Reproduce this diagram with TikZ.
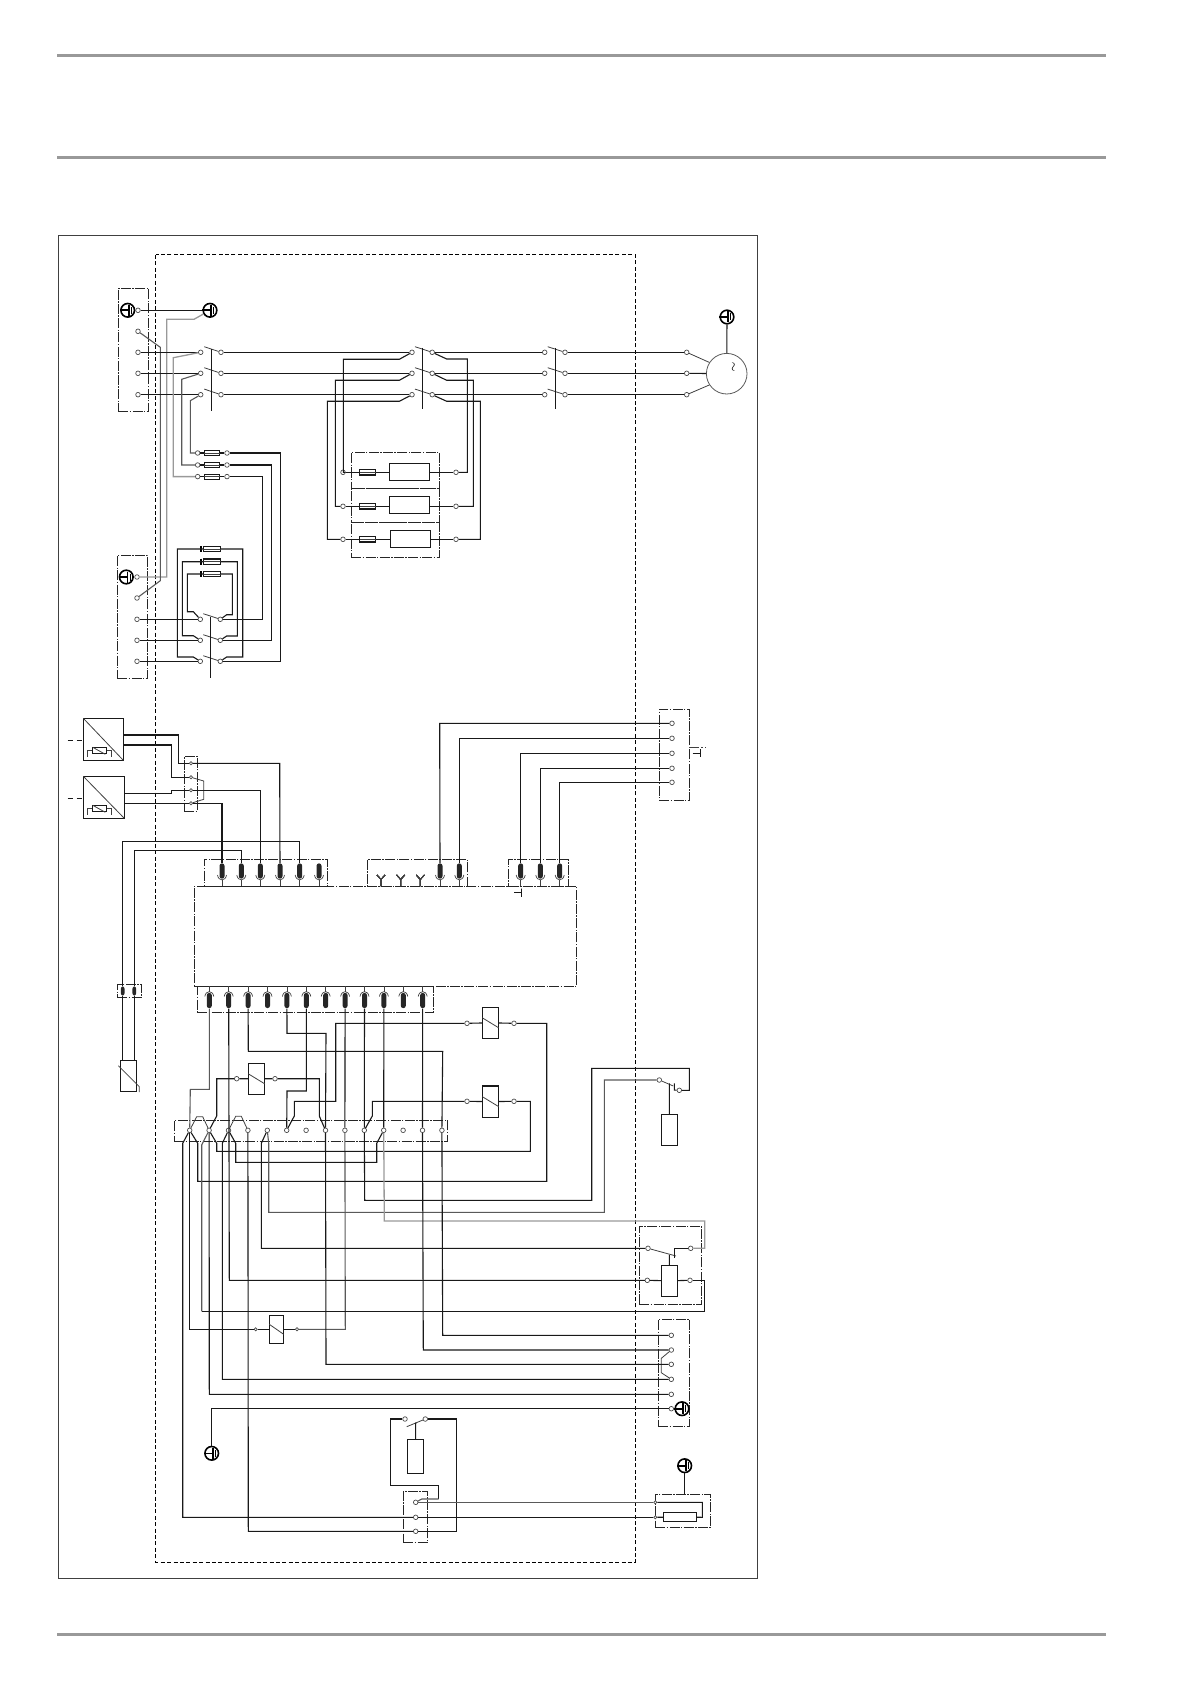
\documentclass[tikz,border=0pt]{standalone}
\usepackage{amsmath}
\usepackage{amssymb}
\usepackage{tikz}
\usetikzlibrary{positioning}

\tikzset{
  wire/.style={line width=0.55pt, black!90},
  greywire/.style={line width=0.55pt, black!65},
  palewire/.style={line width=0.65pt, black!40},
  blade/.style={line width=0.4pt, black!75},
  shaft/.style={line width=0.55pt, black!90},
  term/.style={circle, draw=black!70, fill=white, line width=0.35pt, inner sep=0pt, minimum size=2.3pt},
  smallterm/.style={term, minimum size=1.6pt},
  solidbox/.style={rectangle, draw=black!90, line width=0.55pt, inner sep=0pt, outer sep=0pt},
  dotbox/.style={rectangle, draw=black!85, line width=0.45pt, inner sep=0pt, outer sep=0pt, dash pattern=on 5pt off 0.7pt on 0.7pt off 0.7pt},
  earthring/.style={circle, draw=black, line width=0.8pt, inner sep=0pt, minimum size=6.8pt},
  pinbar/.style={rectangle, fill=black!85, rounded corners=1.2pt, inner sep=0pt, minimum width=2.5pt, minimum height=7.6pt},
  smallbar/.style={pinbar, minimum width=1.9pt, minimum height=4.6pt},
  cupline/.style={line width=0.35pt, black!75}
}

\newcommand{\blk}[6][solidbox]{%
  \pgfmathsetmacro\blkw{((#5)-(#3))*0.5}\pgfmathsetmacro\blkh{((#6)-(#4))*0.5}%
  \node[#1, minimum width=\blkw pt, minimum height=\blkh pt] (#2) at ({((#3)+(#5))/2},{((#4)+(#6))/2}) {};}
\newcommand{\earth}[3]{%
  \node[earthring] (#1) at (#2,#3) {};
  \draw[line width=0.8pt] (#1.west) -- (#2+2,#3);
  \draw[line width=0.8pt] (#2+1,#3-5.5) -- (#2+1,#3+5.5);
  \draw[line width=0.6pt] (#2+3.8,#3-3.5) -- (#2+3.8,#3+3.5);}
\newcommand{\relay}[5]{%
  \blk{#1}{#2}{#3}{#4}{#5}
  \draw[blade] (#2,{(#3+#5)/2-5}) -- (#4,{(#3+#5)/2+5});}
\newcommand{\fuse}[5]{%
  \blk{#1}{#2}{#3}{#4}{#5}
  \draw[blade] (#1.west) -- (#1.east);}
\newcommand{\sensor}[5]{%
  \blk{#1}{#2}{#3}{#4}{#5}
  \draw[blade] (#1.north west) -- (#1.south east);
  \draw[wire, dashed, dash pattern=on 2.5pt off 2pt] (#2-15.6,#3+22) -- (#2,#3+22);
  \blk{#1r}{#2+9}{#3+29.4}{#2+23.4}{#3+35.4}
  \draw[blade] (#2+9.5,#3+29) -- (#2+22,#3+36);
  \draw[blade] (#1r.west) -- (#2+4,#3+32.4) -- (#2+4,#3+38.4);
  \draw[blade] (#1r.east) -- (#2+28.4,#3+32.4) -- (#2+28.4,#3+38.4);}
\newcommand{\pinup}[3]{%
  \node[pinbar] (#1) at (#2,#3) {};
  \draw[cupline] (#2-4.5,#3+4) .. controls (#2-3.5,#3+10.5) and (#2+3.5,#3+10.5) .. (#2+4.5,#3+4);
  \draw[blade] (#2,#3+9) -- (#2,886);}
\newcommand{\pindown}[3]{%
  \node[pinbar] (#1) at (#2,#3) {};
  \draw[cupline] (#2-4.5,#3-4) .. controls (#2-3.5,#3-10.5) and (#2+3.5,#3-10.5) .. (#2+4.5,#3-4);
  \draw[blade] (#2,#3-9) -- (#2,986.3);}

\begin{document}
\begin{tikzpicture}[x=0.5pt, y=-0.5pt]
    \useasboundingbox (0,0) rectangle (1191,1684);

    % page rules and frames
    \draw[line width=1.5pt, black!40] (57,55.3) -- (1106,55.3);
    \draw[line width=1.5pt, black!40] (57,157.3) -- (1106,157.3);
    \draw[line width=1.5pt, black!40] (57,1634.3) -- (1106,1634.3);
    \draw[line width=0.5pt, black!75] (58,236) rectangle (757,1578);
    \draw[line width=0.5pt, dashed, dash pattern=on 2pt off 1.2pt] (155.7,255) rectangle (635.7,1562);

    % mains side
    \blk[dotbox]{boxa}{118.3}{288.3}{148.3}{411.3}
    \blk[dotbox]{boxb}{117.3}{555.3}{147.7}{678.3}
    \foreach \n/\y in {1/310.3,2/331.3,3/352.3,4/373.3,5/394.7}
      \node[term] (xa\n) at (138,\y) {};
    \foreach \n/\y in {1/577,2/598,3/619.3,4/640.3,5/661.3}
      \node[term] (xb\n) at (137,\y) {};
    \earth{pea}{127.7}{310.3}
    \earth{peb}{210}{310.3}
    \earth{pec}{126.3}{577}
    \earth{ped}{727}{317}
    \draw[wire] (xa1) -- (peb);
    \draw[palewire] (peb) -- (194,319.3) -- (166.7,319.3) -- (166.7,577) -- (xb1);
    \draw[greywire] (xa2) -- (160.3,347.3) -- (160.3,580.7) -- (xb2);

    \foreach \n/\y/\k in {1/352.3/3,2/373.3/4,3/394.7/5}{
      \node[term] (qal\n) at (200.7,\y) {};
      \node[term] (qar\n) at (221,\y) {};
      \node[term] (qbl\n) at (412,\y) {};
      \node[term] (qbr\n) at (432.2,\y) {};
      \node[term] (qcl\n) at (544.7,\y) {};
      \node[term] (qcr\n) at (565,\y) {};
      \node[term] (mt\n) at (686.7,\y) {};
      \draw[blade] (204.3,\y-5.6) -- (qar\n);
      \draw[blade] (415,\y-5.6) -- (qbr\n);
      \draw[blade] (547.7,\y-5.6) -- (qcr\n);
      \draw[wire] (xa\k) -- (qal\n);
      \draw[wire] (qar\n) -- (qbl\n);
      \draw[wire] (qbr\n) -- (qcl\n);
      \draw[wire] (qcr\n) -- (mt\n);
    }
    \draw[shaft] (211.3,349) -- (211.3,411.3);
    \draw[shaft] (422.3,348) -- (422.3,408.7);
    \draw[shaft] (555.3,348) -- (555.3,408.7);

    \node[circle, draw=black!65, line width=0.4pt, inner sep=0pt, minimum size=20.3pt] (motor) at (726.7,373.7) {};
    \node[rotate=90, font=\tiny, inner sep=0pt] (tilde) at (734,366.7) {$\sim$};
    \draw[blade] (mt1) -- (motor.147);
    \draw[wire] (mt2) -- (motor);
    \draw[blade] (mt3) -- (motor.213);
    \draw[wire] (ped) -- (motor);

    % fuses
    \foreach \n/\y in {1/453,2/465,3/476.6}{
      \node[term] (fl\n) at (197.7,\y) {};
      \node[term] (fr\n) at (227,\y) {};
      \fuse{fu\n}{204.3}{\y-2.5}{219.7}{\y+2.5}
      \draw[wire] (fl\n) -- (fu\n);
      \draw[wire] (fu\n) -- (fr\n);
    }
    \draw[palewire] (qal1) -- (173.3,357.7) -- (173.3,476.6) -- (fl3);
    \draw[greywire] (qal2) -- (181.7,379.3) -- (181.7,465) -- (fl2);
    \draw[greywire] (qal3) -- (190.3,400.7) -- (190.3,453) -- (fl1);

    % lower switch with its resistors
    \foreach \n/\y/\k in {1/619.3/3,2/640.3/4,3/661.3/5}{
      \node[term] (qdl\n) at (200.3,\y) {};
      \node[term] (qdr\n) at (220.3,\y) {};
      \draw[blade] (203.3,\y-5.6) -- (qdr\n);
      \draw[wire] (xb\k) -- (qdl\n);
    }
    \draw[shaft] (210.3,616.7) -- (210.3,678.3);
    \foreach \n/\y in {1/549,2/561.7,3/574}{
      \fuse{ra\n}{203.3}{\y-2.7}{220.7}{\y+2.7}
      \draw[line width=1.1pt] (201,\y-3) -- (201,\y+3);
    }
    \draw[wire] (ra1) -- (177.3,549) -- (177.3,657) -- (193.3,657) -- (qdl3);
    \draw[wire] (ra1) -- (242.7,549) -- (242.7,657) -- (226.7,657) -- (qdr3);
    \draw[wire] (ra2) -- (182.3,561.7) -- (182.3,635.7) -- (193.3,635.7) -- (qdl2);
    \draw[wire] (ra2) -- (237.3,561.7) -- (237.3,636) -- (226.7,636) -- (qdr2);
    \draw[wire] (ra3) -- (187.3,574) -- (187.3,611.7) -- (193.3,611.7) -- (qdl1);
    \draw[wire] (ra3) -- (232.3,574) -- (232.3,614.7) -- (226.7,614.7) -- (qdr1);
    \draw[wire] (fr1) -- (280.3,453) -- (280.3,661.3) -- (qdr3);
    \draw[wire] (fr2) -- (271.3,465) -- (271.3,640.3) -- (qdr2);
    \draw[wire] (fr3) -- (262.3,476.6) -- (262.3,619.3) -- (qdr1);

    % heaters
    \blk[dotbox]{heata}{351.3}{452.3}{439.3}{488.3}
    \blk[dotbox]{heatb}{351.3}{488.3}{439.3}{522.3}
    \blk[dotbox]{heatc}{351.3}{522.3}{439.3}{557.3}
    \foreach \n/\y/\d in {1/472.3/0,2/506.3/-1.5,3/539.3/0}{
      \node[term] (hl\n) at (343,\y) {};
      \node[term] (hr\n) at (456,\y) {};
      \fuse{hf\n}{359.5}{\y-2.7}{375.7}{\y+2.7}
      \blk{he\n}{389.3+\n*0.3}{\y-8.7+\d}{429.3+\n*0.3}{\y+8.3+\d}
      \draw[wire] (hl\n) -- (hf\n);
      \draw[wire] (hf\n) -- (he\n.west |- hf\n);
      \draw[wire] (he\n.east |- hr\n) -- (hr\n);
    }
    \draw[wire] (qbl1) -- (399.3,359.3) -- (343.3,359.3) -- (343.3,472.3) -- (hl1);
    \draw[wire] (qbl2) -- (399.3,380.3) -- (335.3,380.3) -- (335.3,506.3) -- (hl2);
    \draw[wire] (qbl3) -- (399.3,401.3) -- (327.3,401.3) -- (327.3,539.3) -- (hl3);
    \draw[wire] (qbr1) -- (446.7,359) -- (467.3,359) -- (467.3,472.3) -- (hr1);
    \draw[wire] (qbr2) -- (446.7,380.3) -- (473.3,380.3) -- (473.3,506.3) -- (hr2);
    \draw[wire] (qbr3) -- (446.7,401.3) -- (480.3,401.3) -- (480.3,539.3) -- (hr3);

    % control board
    \blk[dotbox]{board}{194.3}{886}{576.3}{986.3}
    \blk[dotbox]{rowa}{204.3}{859.3}{327.3}{886}
    \blk[dotbox]{rowb}{367.3}{859.3}{467.3}{886}
    \blk[dotbox]{rowc}{508.3}{859.3}{568.3}{886}
    \blk[dotbox]{rowd}{197.3}{986.3}{433.3}{1012.3}
    \foreach \n/\px in {a1/222,a2/241.3,a3/260.3,a4/280,a5/299.7,a6/319,b4/440,b5/459.3,c1/520.7,c2/540.3,c3/559.7}
      \pinup{up\n}{\px}{871}
    \foreach \px in {381,400.7,420.3}
      \draw[blade] (\px-4,875) -- (\px,879.5) -- (\px+4,875) (\px,879.5) -- (\px,886);
    \foreach \i [evaluate=\i as \px using 209.3+19.4*(\i-1)] in {1,...,12}
      \pindown{low\i}{\px}{1000.5}
    \draw[wire] (514.3,892.7) -- (521.5,892.7) (521.5,888.7) -- (521.5,896.7);

    % sensors
    \sensor{tsa}{83.3}{718.3}{123.3}{760.3}
    \sensor{tsb}{83.3}{776.3}{124.3}{818.3}
    \blk[dotbox]{boxc}{184.3}{756}{197.3}{811.3}
    \foreach \n/\y in {1/763.3,2/777.3,3/790.3,4/803.3}
      \node[smallterm] (xc\n) at (191,\y) {};
    \draw[wire] (123.3,735) -- (178.3,735) -- (178.3,763.3) -- (xc1);
    \draw[wire] (123.3,745) -- (171.3,745) -- (171.3,777.3) -- (xc2);
    \draw[wire] (124.3,793.3) -- (171.3,793.3) -- (171.3,790.3) -- (xc3);
    \draw[wire] (124.3,803.3) -- (xc4);
    \draw[blade] (xc2) -- (203.7,781) -- (203.7,799.3) -- (xc4);
    \draw[wire] (xc1) -- (279.7,763.3) -- (upa4);
    \draw[wire] (xc3) -- (260.3,790.3) -- (upa3);
    \draw[wire] (xc4) -- (222,803.3) -- (upa1);

    % coil at the left
    \blk[dotbox]{boxd}{117.3}{984.3}{141.3}{997.3}
    \node[smallbar] (cola) at (122.7,991) {};
    \node[smallbar] (colb) at (134.3,991) {};
    \blk{coil}{120.3}{1060.3}{136.7}{1091.3}
    \draw[blade] (118.3,1065.7) -- (139.3,1086.7) -- (139.3,1092);
    \draw[wire] (upa5) -- (299.7,841.7) -- (122.7,841.7) -- (cola);
    \draw[wire] (upa2) -- (241.3,850.7) -- (134.3,850.7) -- (colb);
    \draw[wire] (cola) -- (coil.north -| cola);
    \draw[wire] (colb) -- (coil.north -| colb);

    % connector at the top right
    \blk[dotbox]{boxe}{659.3}{709.3}{689.3}{800.3}
    \foreach \n/\y in {1/723.3,2/738.3,3/753.3,4/768.3,5/782.3}
      \node[term] (xe\n) at (672,\y) {};
    \draw[wire] (upb4) -- (439.7,723.3) -- (xe1);
    \draw[wire] (upb5) -- (459.3,738.3) -- (xe2);
    \draw[wire] (upc1) -- (520.7,753.3) -- (xe3);
    \draw[wire] (upc2) -- (540.3,768.3) -- (xe4);
    \draw[wire] (upc3) -- (559.7,782.3) -- (xe5);
    \draw[blade, dash pattern=on 5pt off 1pt on 1pt off 1pt] (boxe.east |- 0,747.7) -- (705.7,747.7);
    \draw[wire] (692.7,753.3) -- (700.7,753.3) (700.7,749.3) -- (700.7,757);

    % terminal strip
    \blk[dotbox]{strip}{174.3}{1120.3}{447.3}{1141.3}
    \foreach \i [evaluate=\i as \px using 189.7+19.4*(\i-1)] in {1,...,14}
      \node[term] (s\i) at (\px,1130.3) {};

    % relays
    \relay{rela}{482.3}{1007.3}{498.7}{1038.3}
    \relay{relb}{482.3}{1086}{498.7}{1117.3}
    \relay{relc}{248.3}{1063.3}{264.7}{1094.3}
    \relay{reld}{269.3}{1315.3}{283.7}{1343.3}
    \node[term] (ral) at (467,1023.3) {};
    \node[term] (rar) at (514,1023.3) {};
    \node[term] (rbl) at (467,1101.3) {};
    \node[term] (rbr) at (514,1101.3) {};
    \node[term] (rcl) at (236.7,1078.7) {};
    \node[term] (rcr) at (275,1078.7) {};
    \node[smallterm] (rdl) at (255.7,1329.3) {};
    \node[smallterm] (rdr) at (297,1329.3) {};
    \foreach \k in {a,b,c,d}{
      \draw[wire] (r\k l) -- (rel\k);
      \draw[wire] (rel\k) -- (r\k r);
    }

    % pins to strip and field
    \draw[greywire] (low1) -- (209.3,1089.3) -- (190.3,1089.3) -- (s1);
    \draw[wire] (low2) -- (229.3,1280.3) -- (647.3,1280.3);
    \draw[wire] (low3) -- (248.3,1051.3) -- (442.7,1051.3) -- (s14);
    \draw[wire] (low5) -- (287,1033.3) -- (326,1033.3) -- (s8);
    \draw[wire] (low6) -- (306.3,1091) -- (287,1091) -- (s6);
    \draw[wire] (low8) -- (s9);
    \draw[wire] (low9) -- (s10);
    \draw[wire] (low10) -- (s11);
    \draw[wire] (low12) -- (s13);
    \draw[greywire] (s9) -- (345.3,1329.3) -- (rdr);
    \draw[wire] (rdl) -- (189.7,1329.3) -- (s1);

    \draw[wire] (ral) -- (335.7,1023.3) -- (335.7,1101.3) -- (294.3,1101.3) -- (294.3,1116) -- (s6);
    \draw[wire] (rar) -- (546.7,1023.3) -- (546.7,1181.3) -- (197.7,1181.3) -- (197.7,1143.3) -- (s1);
    \draw[wire] (rbl) -- (372.3,1101.3) -- (372.3,1116) -- (s10);
    \draw[wire] (rbr) -- (530.3,1101.3) -- (530.3,1151.3) -- (216.7,1151.3) -- (216.7,1143.3) -- (s2);
    \draw[wire] (rcl) -- (216.7,1078.7) -- (216.7,1116) -- (s2);
    \draw[wire] (rcr) -- (319.3,1078.7) -- (319.3,1116) -- (s8);
    \draw[blade] (s1) -- (196.7,1116.7) -- (202.7,1116.7) -- (s2);
    \draw[blade] (s3) -- (235.7,1116.3) -- (241.3,1116.3) -- (s4);
    \draw[wire] (s3) -- (235.7,1143.3) -- (235.7,1162.3) -- (376.7,1162.3) -- (376.7,1143.3) -- (s11);

    % thermostat
    \node[term] (tha) at (659.3,1080) {};
    \node[term] (thb) at (679.3,1090.3) {};
    \blk{thr}{661.3}{1114.3}{677.7}{1145.7}
    \draw[blade] (tha) -- (673.3,1086);
    \draw[wire] (674.3,1083.3) -- (674.3,1090) -- (thb);
    \draw[wire] (669.3,1083.3) -- (thr);
    \draw[wire] (s10) -- (364.7,1200.3) -- (591.7,1200.3) -- (591.7,1068.3) -- (689.3,1068.3) -- (689.3,1090.3) -- (thb);
    \draw[greywire] (s5) -- (268.7,1143.3) -- (268.7,1212.3) -- (604.3,1212.3) -- (604.3,1080) -- (tha);

    % contactor
    \blk[dotbox]{boxf}{639.3}{1226.7}{701.7}{1304.3}
    \node[term] (kta) at (648,1248.3) {};
    \node[term] (ktb) at (690.7,1248.3) {};
    \node[term] (kca) at (647.3,1280.3) {};
    \node[term] (kcb) at (690,1280.3) {};
    \blk{kcoil}{661.3}{1265.3}{677.7}{1296.3}
    \draw[blade] (kta) -- (676,1256);
    \draw[wire] (674.3,1257.7) -- (674.3,1248.3) -- (ktb);
    \draw[wire] (669.3,1255) -- (kcoil);
    \draw[wire] (kca) -- (kcoil);
    \draw[wire] (kcoil) -- (kcb);
    \draw[palewire] (s11) -- (384.3,1221) -- (704.7,1221) -- (704.7,1248.3) -- (ktb);
    \draw[wire] (s5) -- (261.3,1143.3) -- (261.3,1248.3) -- (kta);
    \draw[greywire] (s2) -- (201.7,1145) -- (201.7,1311.3);
    \draw[wire] (201.7,1311.3) -- (704.7,1311.3) -- (704.7,1280.3) -- (kcb);
    \draw[wire] (low2 |- 0,1280.3) -- (kca);

    % connector at the lower right
    \blk[dotbox]{boxg}{658.3}{1319.3}{689.3}{1426.7}
    \foreach \n/\y in {1/1335.3,2/1350,3/1364.3,4/1379.3,5/1394.3,6/1408.7}
      \node[term] (xg\n) at (671.3,\y) {};
    \earth{peg}{682}{1408.7}
    \earth{peh}{211.7}{1453.3}
    \earth{pei}{684.7}{1465.7}
    \draw[blade] (xg2) -- (661.3,1358.3) -- (661.3,1372.7) -- (xg4);
    \draw[wire] (s14) -- (442.7,1335.3) -- (xg1);
    \draw[wire] (s13) -- (423.3,1350) -- (xg2);
    \draw[wire] (s8) -- (326,1364.3) -- (xg3);
    \draw[wire] (s3) -- (222.3,1143.3) -- (222.3,1379.3) -- (xg4);
    \draw[wire] (s2) -- (209.3,1394.3) -- (xg5);
    \draw[wire] (xg6) -- (211.7,1408.7) -- (peh);

    % bottom switch and sensor
    \node[term] (qel) at (405,1419) {};
    \node[term] (qer) at (425.3,1419) {};
    \blk{qcoil}{407.3}{1439.3}{423.7}{1473.7}
    \draw[blade] (406.7,1426.7) -- (qer);
    \draw[wire] (415.7,1422.7) -- (qcoil);
    \blk[dotbox]{boxh}{403.3}{1491.3}{427.7}{1542.3}
    \node[term] (xh1) at (415.7,1502.3) {};
    \node[term] (xh2) at (415.7,1517.3) {};
    \node[term] (xh3) at (415.7,1531.3) {};
    \draw[wire] (qel) -- (390.3,1419) -- (390.3,1485.3) -- (438.7,1485.3) -- (438.7,1499);
    \draw[greywire] (438.7,1499) -- (421.7,1499) -- (xh1);
    \draw[wire] (s1) -- (182.7,1143.3) -- (182.7,1517.3) -- (xh2);
    \draw[wire] (s4) -- (248.3,1531.3) -- (xh3);
    \draw[wire] (xh3) -- (456.3,1531.3) -- (456.3,1419) -- (qer);
    \blk[dotbox]{boxi}{655.3}{1494.3}{710.7}{1527.7}
    \node[smallterm] (xi1) at (655.3,1502.3) {};
    \node[smallterm] (xi2) at (655.3,1517.3) {};
    \blk{rsens}{663.3}{1512.3}{696.7}{1521.7}
    \draw[greywire] (xh1) -- (xi1);
    \draw[wire] (xh2) -- (xi2);
    \draw[wire] (xi2) -- (rsens);
    \draw[wire] (xi1) -- (702.3,1502.3) -- (702.3,1517.3) -- (rsens);
    \draw[wire] (pei) -- (684.7,1494.3);
\end{tikzpicture}
\end{document}
